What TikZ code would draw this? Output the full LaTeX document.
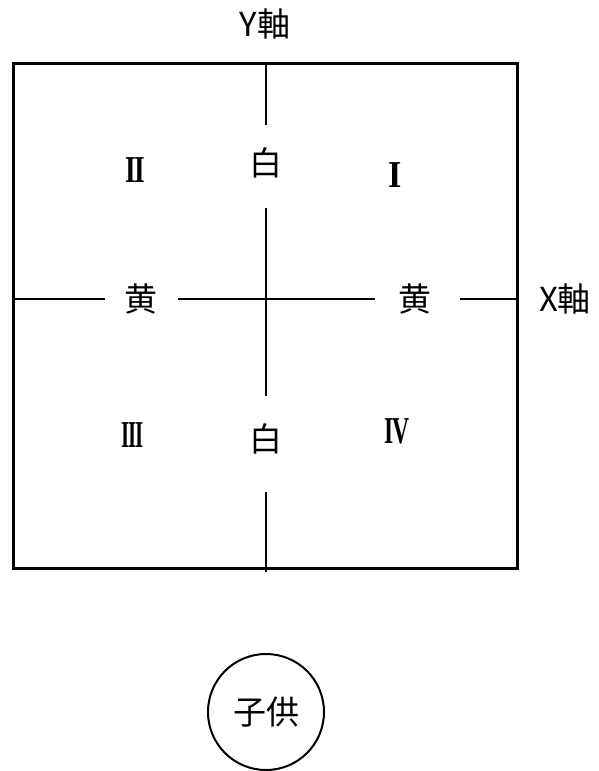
\documentclass[tikz,border=0pt]{standalone}
\usepackage{fontspec}
\setmainfont{Liberation Serif}
\newfontfamily\jp{Noto Sans CJK JP}
\begin{document}
\begin{tikzpicture}[x=1pt,y=-1pt,
  framebox/.style={draw, line width=3pt, inner sep=0pt, outer sep=0pt},
  axisline/.style={line width=1.5pt},
  cjk/.style={inner sep=0pt, font=\jp\fontsize{33}{36}\selectfont},
  roman/.style={inner sep=0pt, font=\fontsize{38}{40}\selectfont\bfseries},
  childnode/.style={circle, draw, line width=2pt, minimum size=116pt, inner sep=0pt, font=\jp\fontsize{33}{36}\selectfont}]
\useasboundingbox (0,0) rectangle (598,771);
\fill[white] (0,0) rectangle (598,771);
\node[framebox, minimum width=504pt, minimum height=505pt] (frame) at (265,315.5) {};
% axis end points
\coordinate (vt) at (266,63);
\coordinate (v1) at (266,125);
\coordinate (v2) at (266,208);
\coordinate (v3) at (266,396);
\coordinate (v4) at (266,492);
\coordinate (vb) at (266,572);
\coordinate (hl) at (13,299);
\coordinate (h1) at (105,299);
\coordinate (h2) at (178,299);
\coordinate (h3) at (375,299);
\coordinate (h4) at (460,299);
\coordinate (hr) at (517,299);
\draw[axisline] (vt) -- (v1);
\draw[axisline] (v2) -- (v3);
\draw[axisline] (v4) -- (vb);
\draw[axisline] (hl) -- (h1);
\draw[axisline] (h2) -- (h3);
\draw[axisline] (h4) -- (hr);
% labels
\node[cjk] (yaxis) at (265,24) {Y軸};
\node[cjk] (xaxis) at (565,299) {X軸};
\node[cjk] (whiteT) at (266,163) {白};
\node[cjk] (whiteB) at (266,439) {白};
\node[cjk] (yellowL) at (141,299) {黄};
\node[cjk] (yellowR) at (415,299) {黄};
\node[roman] (q2) at (135,170) {\scalebox{0.72}[1]{I\kern-2ptI}};
\node[roman] (q1) at (395,175) {\scalebox{0.9}[1]{I}};
\node[roman] (q3) at (133,435) {\scalebox{0.55}[1]{I\kern-2ptI\kern-2ptI}};
\node[roman] (q4) at (397,431) {\scalebox{0.62}[1]{I\kern-3ptV}};
\node[childnode] (child) at (266,712) {子供};
\end{tikzpicture}
\end{document}
